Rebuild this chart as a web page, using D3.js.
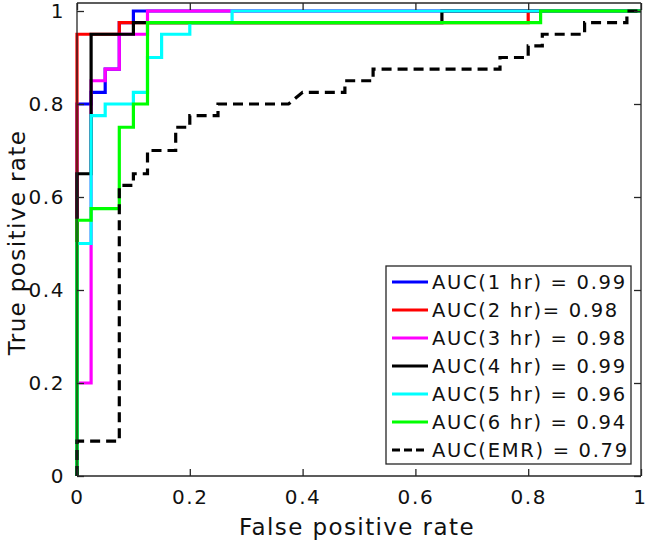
<!DOCTYPE html>
<html>
<head>
<meta charset="utf-8">
<script src="https://cdn.jsdelivr.net/npm/d3@7"></script>
<style>
  html, body { margin: 0; padding: 0; background: #fff; }
  svg { display: block; font-family: "DejaVu Sans", Verdana, sans-serif; }
</style>
</head>
<body>
<svg id="chart" width="646" height="544"></svg>
<script>
// ---- data (FPR, TPR step vertices) ----
const seriesNames = ["AUC(1 hr) = 0.99", "AUC(2 hr)= 0.98", "AUC(3 hr) = 0.98", "AUC(4 hr) = 0.99", "AUC(5 hr) = 0.96", "AUC(6 hr) = 0.94", "AUC(EMR) = 0.79"];
const seriesColors = ["#0000ff", "#ff0000", "#ff00ff", "#000000", "#00ffff", "#00ff00", "#000000"];
const seriesDashed = [false, false, false, false, false, false, true];

const roc1hr = [[0,0],[0,0.8],[0.025,0.8],[0.025,0.825],[0.05,0.825],[0.05,0.875],[0.075,0.875],[0.075,0.975],[0.1,0.975],[0.1,1],[1,1]];
const roc2hr = [[0,0],[0,0.95],[0.075,0.95],[0.075,0.975],[0.8,0.975],[0.8,1],[1,1]];
const roc3hr = [[0,0],[0,0.2],[0.025,0.2],[0.025,0.85],[0.05,0.85],[0.05,0.875],[0.075,0.875],[0.075,0.95],[0.125,0.95],[0.125,1],[1,1]];
const roc4hr = [[0,0],[0,0.65],[0.025,0.65],[0.025,0.95],[0.1,0.95],[0.1,0.975],[0.647,0.975],[0.647,1],[1,1]];
const roc5hr = [[0,0],[0,0.5],[0.025,0.5],[0.025,0.775],[0.05,0.775],[0.05,0.8],[0.1,0.8],[0.1,0.825],[0.125,0.825],[0.125,0.9],[0.15,0.9],[0.15,0.95],[0.2,0.95],[0.2,0.975],[0.275,0.975],[0.275,1],[1,1]];
const roc6hr = [[0,0],[0,0.55],[0.025,0.55],[0.025,0.575],[0.075,0.575],[0.075,0.75],[0.1,0.75],[0.1,0.8],[0.125,0.8],[0.125,0.975],[0.822,0.975],[0.822,1],[1,1]];
const rocEMR = [[0,0],[0,0.075],[0.075,0.075],[0.075,0.625],[0.1,0.625],[0.1,0.65],[0.125,0.65],[0.125,0.7],[0.175,0.7],[0.175,0.75],[0.2,0.75],[0.2,0.775],[0.25,0.775],[0.25,0.8],[0.375,0.8],[0.4,0.825],[0.475,0.825],[0.475,0.85],[0.525,0.85],[0.525,0.875],[0.75,0.875],[0.75,0.9],[0.8,0.9],[0.8,0.925],[0.825,0.925],[0.825,0.95],[0.9,0.95],[0.9,0.975],[0.975,0.975],[0.975,1],[1,1]];
const seriesData = [roc1hr, roc2hr, roc3hr, roc4hr, roc5hr, roc6hr, rocEMR];

const xTicks = [0, 0.2, 0.4, 0.6, 0.8, 1];
const yTicks = [0, 0.2, 0.4, 0.6, 0.8, 1];
const xTickLabels = ["0", "0.2", "0.4", "0.6", "0.8", "1"];
const yTickLabels = ["0", "0.2", "0.4", "0.6", "0.8", "1"];
const xTitle = "False positive rate";
const yTitle = "True positive rate";

// ---- layout ----
const plot = { left: 77, right: 641, top: 3, bottom: 476 };
const svg = d3.select("#chart");
const x = d3.scaleLinear().domain([0, 1]).range([plot.left, plot.right]);
const y = d3.scaleLinear().domain([0, 1.0172]).range([plot.bottom, plot.top]);
const axisColor = "#262626";

// curves
const line = d3.line().x(d => x(d[0])).y(d => y(d[1]));
const curves = svg.append("g");
seriesData.forEach((data, i) => {
  curves.append("path")
    .attr("d", line(data))
    .attr("fill", "none")
    .attr("stroke", seriesColors[i])
    .attr("stroke-width", 3.2)
    .attr("stroke-linejoin", "miter")
    .attr("stroke-dasharray", seriesDashed[i] ? "10,6" : null);
});

// axes (box with inward ticks on all sides)
const tickLen = 7;
const axG = svg.append("g");
const bottomAxis = d3.axisBottom(x).tickValues(xTicks).tickSize(-tickLen).tickPadding(14)
  .tickFormat((d, i) => xTickLabels[i]);
const topAxis = d3.axisTop(x).tickValues(xTicks).tickSize(-tickLen).tickFormat("");
const leftAxis = d3.axisLeft(y).tickValues(yTicks).tickSize(-tickLen).tickPadding(12)
  .tickFormat((d, i) => yTickLabels[i]);
const rightAxis = d3.axisRight(y).tickValues(yTicks).tickSize(-tickLen).tickFormat("");

const gB = axG.append("g").attr("transform", `translate(0,${plot.bottom})`).call(bottomAxis);
const gT = axG.append("g").attr("transform", `translate(0,${plot.top})`).call(topAxis);
const gL = axG.append("g").attr("transform", `translate(${plot.left},0)`).call(leftAxis);
const gR = axG.append("g").attr("transform", `translate(${plot.right},0)`).call(rightAxis);
[gB, gT, gL, gR].forEach(g => {
  g.select(".domain").attr("stroke", axisColor).attr("stroke-width", 1.3);
  g.selectAll(".tick line").attr("stroke", axisColor).attr("stroke-width", 1.3);
  g.selectAll(".tick text").attr("fill", "#111").style("font-size", "20px")
    .style("font-family", "'DejaVu Sans', sans-serif").style("letter-spacing", "1.6px");
});
gL.select(".domain").attr("d", `M0,${plot.bottom}V${plot.top}`);
gR.select(".domain").attr("d", `M0,${plot.bottom}V${plot.top}`);
gT.select(".domain").attr("d", `M${plot.left},0H${plot.right}`);
gB.select(".domain").attr("d", `M${plot.left},0H${plot.right}`);
// last x tick label sits at the right edge; keep it inside the picture
gB.selectAll(".tick text").filter((d, i) => i === xTicks.length - 1)
  .attr("text-anchor", "end").attr("dx", "6px");

// axis titles
svg.append("text")
  .attr("x", (plot.left + plot.right) / 2 - 2)
  .attr("y", 535)
  .attr("text-anchor", "middle")
  .attr("fill", "#111")
  .style("font-size", "23px")
  .style("letter-spacing", "1.4px")
  .text(xTitle);
svg.append("text")
  .attr("transform", `translate(25,${(plot.top + plot.bottom) / 2 + 3}) rotate(-90)`)
  .attr("text-anchor", "middle")
  .attr("fill", "#111")
  .style("font-size", "23px")
  .style("letter-spacing", "1.4px")
  .text(yTitle);

// legend
const leg = { x0: 386, x1: 631, y0: 266, y1: 464, first: 282, step: 28 };
const lg = svg.append("g");
lg.append("rect")
  .attr("x", leg.x0).attr("y", leg.y0)
  .attr("width", leg.x1 - leg.x0).attr("height", leg.y1 - leg.y0)
  .attr("fill", "#fff").attr("stroke", axisColor).attr("stroke-width", 1.3);
seriesNames.forEach((name, i) => {
  const yy = leg.first + i * leg.step;
  lg.append("line")
    .attr("x1", 392).attr("x2", 428).attr("y1", yy).attr("y2", yy)
    .attr("stroke", seriesColors[i]).attr("stroke-width", 3)
    .attr("stroke-dasharray", seriesDashed[i] ? "8,4" : null);
  lg.append("text")
    .attr("x", 432).attr("y", yy)
    .attr("dominant-baseline", "central")
    .attr("fill", "#111")
    .style("font-size", "19.5px")
    .style("letter-spacing", "1.7px")
    .text(name);
});
</script>
</body>
</html>
